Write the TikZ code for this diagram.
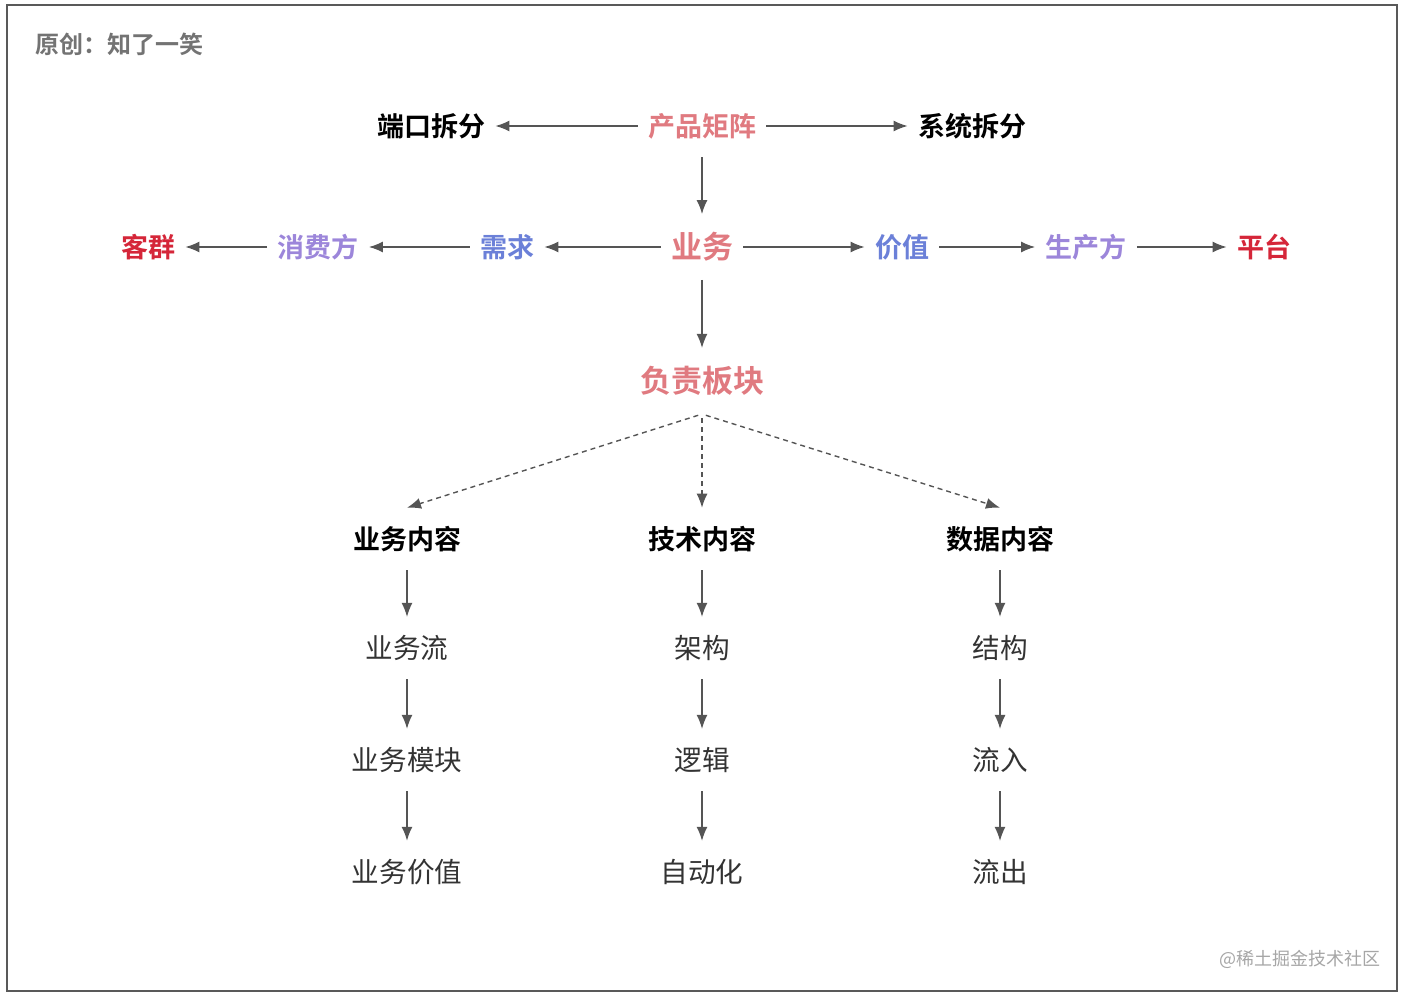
\documentclass[tikz,border=0pt]{standalone}
\usepackage{fontspec}
\setmainfont{Noto Sans CJK SC}[BoldFont={Noto Sans CJK SC Bold}]
\usetikzlibrary{positioning,arrows.meta}
\definecolor{pinkc}{HTML}{E07A80}
\definecolor{redc}{HTML}{D52639}
\definecolor{purplec}{HTML}{9C86DA}
\definecolor{bluec}{HTML}{6B80D8}
\definecolor{linec}{HTML}{555555}
\tikzset{word/.style = {inner xsep=5pt, inner ysep=9pt, font=\bfseries\fontsize{13.5}{15}\selectfont},
         big/.style = {word, font=\bfseries\fontsize{15.5}{17}\selectfont},
         item/.style = {word, font=\fontsize{13.8}{15}\selectfont, text=black!80},
         arr/.style = {draw=linec, line width=0.7pt, -{Latex[length=7pt,width=5.5pt]}},
         dots/.style = {arr, dash pattern=on 2.5pt off 2pt}}

\begin{document}
\begin{tikzpicture}[x=0.5pt,y=-0.5pt]
    \useasboundingbox (0,0) rectangle (1408,996);
    \draw[black!65, line width=1pt] (7,5) rectangle (1397,991);
    \node[word, anchor=west, inner xsep=0pt, text=black!55, font=\bfseries\fontsize{12}{14}\selectfont] (author) at (35,44) {原创：知了一笑};
    \node[anchor=east, inner sep=0pt, text=black!35, font=\fontsize{9}{11}\selectfont] (mark) at (1381,959) {@稀土掘金技术社区};

    % top row
    \node[word, text=pinkc] (matrix) at (702,126) {产品矩阵};
    \node[word] (port) at (431,126) {端口拆分};
    \node[word] (sys) at (972,126) {系统拆分};
    \draw[arr] (matrix) -- (port);
    \draw[arr] (matrix) -- (sys);

    % business row
    \node[big, text=pinkc] (biz) at (702,247) {业务};
    \node[word, text=bluec] (need) at (507,247) {需求};
    \node[word, text=purplec] (cons) at (318,247) {消费方};
    \node[word, text=redc] (cust) at (148,247) {客群};
    \node[word, text=bluec] (value) at (902,247) {价值};
    \node[word, text=purplec] (prod) at (1086,247) {生产方};
    \node[word, text=redc] (plat) at (1264,247) {平台};
    \draw[arr] (matrix) -- (biz);
    \draw[arr] (biz) -- (need);
    \draw[arr] (need) -- (cons);
    \draw[arr] (cons) -- (cust);
    \draw[arr] (biz) -- (value);
    \draw[arr] (value) -- (prod);
    \draw[arr] (prod) -- (plat);

    \node[big, text=pinkc] (block) at (702,381) {负责板块};
    \draw[arr] (biz) -- (block);

    % three columns
    \foreach \x/\n/\t/\a/\b/\c in {407/a/业务内容/业务流/业务模块/业务价值,
                                  702/b/技术内容/架构/逻辑/自动化,
                                  1000/c/数据内容/结构/流入/流出} {
        \node[word] (\n0) at (\x,539) {\t};
        \node[item] (\n1) at (\x,648) {\a};
        \node[item] (\n2) at (\x,760) {\b};
        \node[item] (\n3) at (\x,872) {\c};
        \draw[dots, shorten <=2pt] (block.south) -- (\n0.north);
        \draw[arr] (\n0) -- (\n1);
        \draw[arr] (\n1) -- (\n2);
        \draw[arr] (\n2) -- (\n3);
    }
\end{tikzpicture}
\end{document}
